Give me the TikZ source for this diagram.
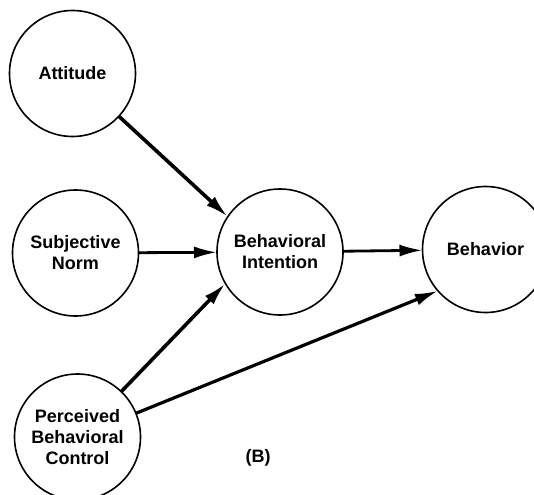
\documentclass[tikz,border=0pt]{standalone}
\usepackage{fontspec}
\setmainfont{Liberation Sans}
\usetikzlibrary{arrows.meta}
\begin{document}
\begin{tikzpicture}[x=1pt,y=-1pt,
  construct/.style={circle,draw,line width=1.6pt,minimum size=126pt,inner sep=0pt,outer sep=0pt,
    align=center,font=\fontsize{18}{21}\selectfont\bfseries},
  link/.style={line width=#1,-{Latex[length=23pt,width=12pt]}},
  link/.default=2.8pt]
\useasboundingbox (0,0) rectangle (534,494);
\node[construct] (att) at (72.5,73.5) {Attitude};
\node[construct] (sn) at (75.5,253) {Subjective\\Norm};
\node[construct] (bi) at (280,252) {Behavioral\\Intention};
\node[construct] (beh) at (485.5,249.5) {Behavior};
\node[construct] (pbc) at (77.5,437) {Perceived\\Behavioral\\Control};
\node[font=\fontsize{18}{21}\selectfont\bfseries] (lbl) at (258,458) {(B)};
\draw[link=3.6pt] (att) -- (bi.146);
\draw[link=2.8pt] (sn) -- (bi);
\draw[link=2.8pt] (bi) -- (beh);
\draw[link=3.6pt] (pbc) -- (bi.210);
\draw[link=3.2pt] (pbc) -- (beh.221);
\end{tikzpicture}
\end{document}
